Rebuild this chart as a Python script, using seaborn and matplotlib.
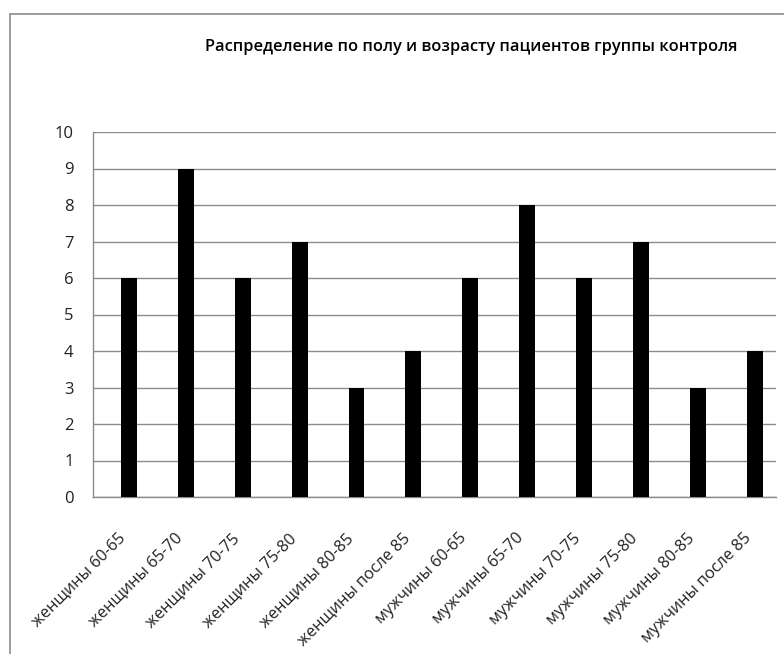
import matplotlib
matplotlib.use('Agg')
import matplotlib.pyplot as plt
import matplotlib.transforms as mtransforms
import seaborn as sns
import pandas as pd
from matplotlib.patches import Rectangle

categories = ['женщины 60-65', 'женщины 65-70', 'женщины 70-75', 'женщины 75-80',
              'женщины 80-85', 'женщины после 85', 'мужчины 60-65', 'мужчины 65-70',
              'мужчины 70-75', 'мужчины 75-80', 'мужчины 80-85', 'мужчины после 85']
counts = [6, 9, 6, 7, 3, 4, 6, 8, 6, 7, 3, 4]
yticks = list(range(0, 11))

df = pd.DataFrame({'group': categories, 'count': counts})

sns.set_style('white')
plt.rcParams['font.family'] = ['Open Sans', 'DejaVu Sans']

fig = plt.figure(figsize=(7.84, 6.54), dpi=100)
ax = fig.add_axes([93 / 784, 1 - 497 / 654, (776 - 93) / 784, (497 - 132) / 654])

sns.barplot(data=df, x='group', y='count', color='black', width=0.28,
            saturation=1, linewidth=0, ax=ax, zorder=3)

ax.set_ylim(0, 10)
ax.set_xlim(-0.63, 11.37)
ax.set_yticks(yticks)
ax.set_yticklabels([str(t) for t in yticks], fontsize=12, color='#222222')
ax.yaxis.grid(True, color='#8c8c8c', linewidth=1, zorder=0)
ax.set_axisbelow(True)
ax.tick_params(axis='both', length=0)
ax.tick_params(axis='y', pad=14)
ax.set_xlabel('')
ax.set_ylabel('')
ax.set_xticks(range(len(categories)))
ax.set_xticklabels(categories, rotation=45, ha='right', va='center',
                   rotation_mode='anchor', fontsize=11.7, color='#222222')
ax.tick_params(axis='x', pad=28)

# nudge the rotated labels a little to the left
shift = mtransforms.ScaledTranslation(-6 / 100, 0, fig.dpi_scale_trans)
for lbl in ax.get_xticklabels():
    lbl.set_transform(lbl.get_transform() + shift)

for side in ['top', 'right']:
    ax.spines[side].set_visible(False)
for side in ['left', 'bottom']:
    ax.spines[side].set_color('#8c8c8c')
    ax.spines[side].set_linewidth(1)

fig.text(471 / 784, 1 - 47 / 654, 'Распределение по полу и возрасту пациентов группы контроля',
         ha='center', va='center', fontsize=11.8, fontweight='semibold', color='black')

# outer chart frame
fig.patches.append(Rectangle((10 / 784, -0.05), 1.1, 1 - 14 / 654 + 0.05,
                             transform=fig.transFigure, fill=False,
                             edgecolor='#8c8c8c', linewidth=1.2))

fig.savefig('out.png', dpi=100)
